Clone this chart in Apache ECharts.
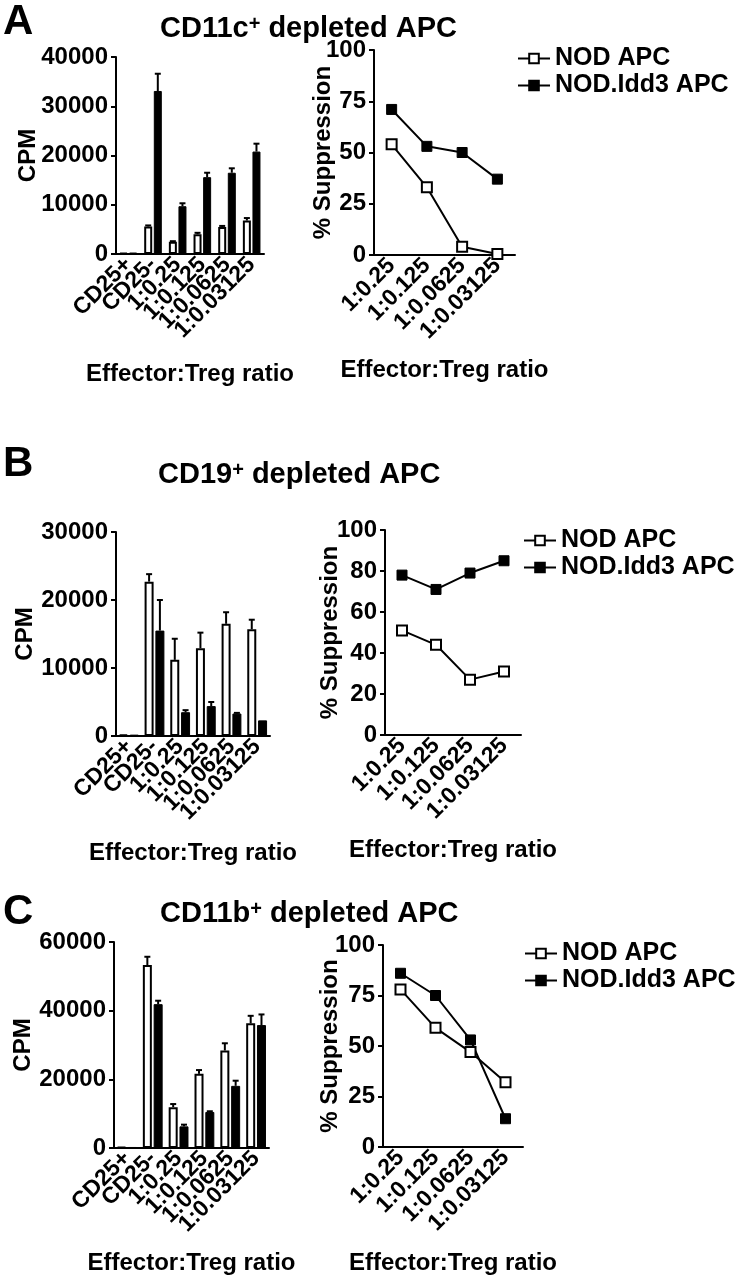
<!DOCTYPE html>
<html>
<head>
<meta charset="utf-8">
<script src="https://cdn.jsdelivr.net/npm/echarts@6/dist/echarts.min.js"></script>
<style>
  html, body { margin: 0; padding: 0; background: #fff; }
  #chart { width: 736px; height: 1280px; }
</style>
</head>
<body>
<div id="chart"></div>
<script>
// categories
const barCats = ['CD25+', 'CD25-', '1:0.25', '1:0.125', '1:0.0625', '1:0.03125']
const ratioCats = ['1:0.25', '1:0.125', '1:0.0625', '1:0.03125']

// A - CD11c+ depleted APC
const aNodCpm = [200, 5600, 2500, 4000, 5500, 6800]
const aNodErr = [0, 200, 100, 300, 200, 500]
const aIddCpm = [300, 33100, 9700, 15600, 16500, 20800]
const aIddErr = [0, 3500, 600, 900, 900, 1600]
const aNodSup = [54, 33, 4, 0.5]
const aIddSup = [71, 53, 50, 37]

// B - CD19+ depleted APC
const bNodCpm = [200, 22700, 11200, 12900, 16500, 15700]
const bNodErr = [0, 1100, 3100, 2300, 1700, 1400]
const bIddCpm = [200, 15500, 3500, 4400, 3300, 2300]
const bIddErr = [0, 4500, 300, 600, 100, 0]
const bNodSup = [51, 44, 27, 31]
const bIddSup = [78, 71, 79, 85]

// C - CD11b+ depleted APC
const cNodCpm = [300, 53300, 11900, 21600, 28400, 36300]
const cNodErr = [0, 2400, 900, 1100, 2100, 2200]
const cIddCpm = [300, 41900, 6300, 10500, 18100, 35800]
const cIddErr = [0, 1000, 500, 200, 1500, 3100]
const cNodSup = [78, 59, 47, 32]
const cIddSup = [86, 75, 53, 14]

const FONT = '"Liberation Sans", Arial, Helvetica, sans-serif'
const txt = (size) => ({ fontFamily: FONT, fontWeight: 'bold', fontSize: size, color: '#000' })

const grids = [
  { left: 116, top: 57, width: 148, height: 197 },
  { left: 374, top: 50, width: 141, height: 205 },
  { left: 116, top: 532, width: 154, height: 204 },
  { left: 385, top: 530, width: 136, height: 205 },
  { left: 114, top: 942, width: 155, height: 206 },
  { left: 383, top: 945, width: 140, height: 202 }
]

function xAxisOf (grid, cats, nameGap) {
  return {
    type: 'category',
    gridIndex: grid,
    data: cats,
    name: 'Effector:Treg ratio',
    nameLocation: 'middle',
    nameGap: nameGap,
    nameMoveOverlap: false,
    nameTextStyle: txt(24),
    axisLine: { lineStyle: { color: '#000', width: 2 } },
    axisTick: { alignWithLabel: true, length: 5, lineStyle: { color: '#000', width: 2 } },
    axisLabel: Object.assign({ rotate: 45, margin: 7, interval: 0 }, txt(23))
  }
}

function yAxisOf (grid, max, interval, name, nameGap) {
  return {
    type: 'value',
    gridIndex: grid,
    min: 0,
    max: max,
    interval: interval,
    name: name,
    nameLocation: 'middle',
    nameGap: nameGap,
    nameMoveOverlap: false,
    nameTextStyle: txt(24),
    splitLine: { show: false },
    axisLine: { show: true, lineStyle: { color: '#000', width: 2 } },
    axisTick: { show: true, length: 5, lineStyle: { color: '#000', width: 2 } },
    axisLabel: Object.assign({ margin: 8, formatter: (v) => String(v) }, txt(24))
  }
}

function barSeries (idx, name, vals, white, w) {
  return {
    type: 'bar',
    name: name,
    xAxisIndex: idx,
    yAxisIndex: idx,
    data: vals,
    barWidth: w,
    barGap: '20%',
    itemStyle: white
      ? { color: '#fff', borderColor: '#000', borderWidth: 2 }
      : { color: '#000', borderColor: '#000', borderWidth: 1 },
    emphasis: { disabled: true }
  }
}

function errSeries (idx, vals, errs, dx) {
  return {
    type: 'custom',
    xAxisIndex: idx,
    yAxisIndex: idx,
    silent: true,
    z: 3,
    data: vals.map((v, i) => [i, v, v + errs[i]]),
    renderItem (params, api) {
      if (api.value(2) <= api.value(1)) return null
      const lo = api.coord([api.value(0), api.value(1)])
      const hi = api.coord([api.value(0), api.value(2)])
      const x = lo[0] + dx
      const st = { stroke: '#000', lineWidth: 2 }
      return {
        type: 'group',
        children: [
          { type: 'line', shape: { x1: x, y1: lo[1], x2: x, y2: hi[1] }, style: st },
          { type: 'line', shape: { x1: x - 3, y1: hi[1], x2: x + 3, y2: hi[1] }, style: st }
        ]
      }
    }
  }
}

function lineSeries (idx, name, vals, open) {
  return {
    type: 'line',
    name: name,
    xAxisIndex: idx,
    yAxisIndex: idx,
    data: vals,
    symbol: 'rect',
    symbolSize: 10,
    showAllSymbol: true,
    lineStyle: { color: '#000', width: 2 },
    itemStyle: open
      ? { color: '#fff', borderColor: '#000', borderWidth: 2 }
      : { color: '#000', borderColor: '#000', borderWidth: 1 },
    z: open ? 3 : 2,
    emphasis: { disabled: true }
  }
}

function titleOf (main, left, top) {
  return {
    text: '{a|' + main + '}{s|+}{a| depleted APC}',
    left: left,
    top: top,
    textStyle: {
      rich: {
        a: txt(29),
        s: Object.assign(txt(20), { verticalAlign: 'top', lineHeight: 30 })
      }
    }
  }
}

function letterOf (t, top) {
  return { text: t, left: -2, top: top, textStyle: txt(42) }
}

function legendOf (left, top) {
  return {
    orient: 'vertical',
    left: left,
    top: top,
    data: ['NOD APC', 'NOD.Idd3 APC'],
    itemWidth: 32,
    itemHeight: 12,
    itemGap: 2,
    padding: 0,
    selectedMode: false,
    textStyle: Object.assign({ padding: [0, 0, 0, 0] }, txt(25))
  }
}

const chart = echarts.init(document.getElementById('chart'), null, { renderer: 'canvas' })

const option = {
  backgroundColor: '#fff',
  animation: false,
  title: [
    letterOf('A', -4), titleOf('CD11c', 155, 9),
    letterOf('B', 438), titleOf('CD19', 153, 455),
    letterOf('C', 886), titleOf('CD11b', 155, 894)
  ],
  legend: [legendOf(517, 46), legendOf(523, 528), legendOf(524, 941)],
  grid: grids,
  xAxis: [
    xAxisOf(0, barCats, 108), xAxisOf(1, ratioCats, 103),
    xAxisOf(2, barCats, 105), xAxisOf(3, ratioCats, 103),
    xAxisOf(4, barCats, 103), xAxisOf(5, ratioCats, 104)
  ],
  yAxis: [
    yAxisOf(0, 40000, 10000, 'CPM', 76), yAxisOf(1, 100, 25, '% Suppression', 39),
    yAxisOf(2, 30000, 10000, 'CPM', 79), yAxisOf(3, 100, 20, '% Suppression', 43),
    yAxisOf(4, 60000, 20000, 'CPM', 79), yAxisOf(5, 100, 25, '% Suppression', 41)
  ],
  series: [
    barSeries(0, 'NOD CPM A', aNodCpm, true, 8), barSeries(0, 'Idd3 CPM A', aIddCpm, false, 8),
    errSeries(0, aNodCpm, aNodErr, -4.8), errSeries(0, aIddCpm, aIddErr, 4.8),
    lineSeries(1, 'NOD APC', aNodSup, true), lineSeries(1, 'NOD.Idd3 APC', aIddSup, false),

    barSeries(2, 'NOD CPM B', bNodCpm, true, 9), barSeries(2, 'Idd3 CPM B', bIddCpm, false, 9),
    errSeries(2, bNodCpm, bNodErr, -5.4), errSeries(2, bIddCpm, bIddErr, 5.4),
    lineSeries(3, 'NOD APC', bNodSup, true), lineSeries(3, 'NOD.Idd3 APC', bIddSup, false),

    barSeries(4, 'NOD CPM C', cNodCpm, true, 9), barSeries(4, 'Idd3 CPM C', cIddCpm, false, 9),
    errSeries(4, cNodCpm, cNodErr, -5.4), errSeries(4, cIddCpm, cIddErr, 5.4),
    lineSeries(5, 'NOD APC', cNodSup, true), lineSeries(5, 'NOD.Idd3 APC', cIddSup, false)
  ]
}

chart.setOption(option)
</script>
</body>
</html>
